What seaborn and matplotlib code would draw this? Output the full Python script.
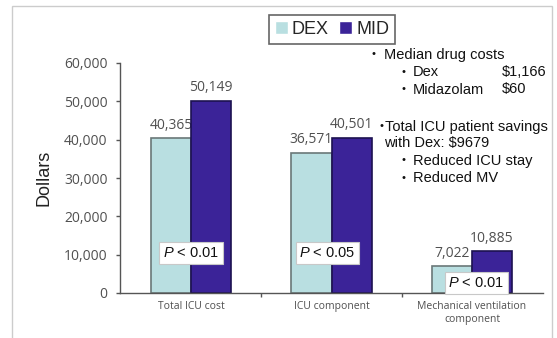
import matplotlib
matplotlib.use("Agg")
import matplotlib.pyplot as plt
import seaborn as sns
import pandas as pd
from matplotlib.patches import Rectangle
from matplotlib.ticker import FuncFormatter, FixedLocator

# ---- data ----
categories = ["Total ICU cost", "ICU component", "Mechanical ventilation\ncomponent"]
groups = ["DEX", "MID"]
dex_values = [40365, 36571, 7022]
mid_values = [50149, 40501, 10885]
p_labels = ["< 0.01", "< 0.05", "< 0.01"]
y_ticks = [0, 10000, 20000, 30000, 40000, 50000, 60000]

df = pd.DataFrame({
    "category": categories * 2,
    "group": ["DEX"] * 3 + ["MID"] * 3,
    "cost": dex_values + mid_values,
})

sns.set_theme(style="ticks")
plt.rcParams["font.family"] = ["Liberation Sans", "DejaVu Sans"]
plt.rcParams["mathtext.fontset"] = "custom"
plt.rcParams["mathtext.it"] = "Liberation Sans:italic"
plt.rcParams["mathtext.rm"] = "Liberation Sans"

W, H = 557, 338
fig = plt.figure(figsize=(W / 100, H / 100), dpi=100)
ax = fig.add_axes([120 / W, 1 - 293 / H, (543 - 120) / W, (293 - 63) / H])

light = "#b9dfe1"
dark = "#3b2398"
sns.barplot(data=df, x="category", y="cost", hue="group", palette=[light, dark],
            width=0.57, saturation=1, linewidth=1.2, ax=ax, errorbar=None)

edge_cols = ["#6a7878", "#1c1250"]
for cont, ec in zip(ax.containers, edge_cols):
    for bar in cont:
        bar.set_edgecolor(ec)
        bar.set_zorder(2)

tick_font = "Open Sans"
for cont, vals in zip(ax.containers, [dex_values, mid_values]):
    anns = ax.bar_label(cont, labels=[f"{v:,}" for v in vals], padding=4,
                        fontsize=10, color="#505050", family=tick_font)
    for a in anns:
        a.set_zorder(1)

ax.set_ylim(0, 60000)
ax.set_xlim(-0.505, 2.505)
ax.yaxis.set_major_locator(FixedLocator(y_ticks))
ax.yaxis.set_major_formatter(FuncFormatter(lambda v, p: f"{int(v):,}"))
ax.set_xlabel("")
ax.set_ylabel("Dollars", fontsize=13, color="#222222", labelpad=8,
              family="Liberation Sans")
sns.despine(ax=ax)
for s in ["left", "bottom"]:
    ax.spines[s].set_color("#555555")
    ax.spines[s].set_linewidth(1.0)

ax.tick_params(axis="y", length=3, width=1, color="#555555", pad=6,
               labelsize=10, labelcolor="#505050")
ax.tick_params(axis="x", which="major", length=0, pad=6, labelsize=7.5,
               labelcolor="#505050")
ax.set_xticks([0.5, 1.5], minor=True)
ax.tick_params(axis="x", which="minor", length=3, width=1, color="#555555")
for lab in ax.get_yticklabels() + ax.get_xticklabels():
    lab.set_family(tick_font)

# p-value boxes
p_pos = [(0.0, 10400), (0.97, 10400), (2.03, 2600)]
for (px, py), lab in zip(p_pos, p_labels):
    ax.text(px, py, r"$\mathit{P}$" + " " + lab, ha="center", va="center",
            fontsize=10.5, color="#111111", zorder=5,
            bbox=dict(boxstyle="square,pad=0.25", fc="white", ec="#c8c8c8", lw=0.8))

# legend
handles, labels = ax.get_legend_handles_labels()
for h in handles:
    h.set_linewidth(1.0)
ax.legend(handles, labels, loc="center", ncol=2,
          bbox_to_anchor=(332 / W, 1 - 29.5 / H), bbox_transform=fig.transFigure,
          frameon=True, fancybox=False, edgecolor="#666666", framealpha=1,
          prop={"family": "Liberation Sans", "size": 13},
          handlelength=0.72, handleheight=0.72, handletextpad=0.2,
          columnspacing=0.6, borderpad=0.35)
ax.get_legend().get_frame().set_linewidth(1.2)

# side notes
def fx(x):
    return x / W

def fy(y):
    return 1 - y / H

note_fs = 10.5
bullets = [(374, 53), (403, 71), (403, 88), (381, 125), (403, 159), (403, 177)]
for bx, by in bullets:
    fig.text(fx(bx), fy(by), "•", ha="center", va="center_baseline", fontsize=8,
             color="#111111")
lines = [
    (384, 53, "Median drug costs"),
    (413, 71, "Dex"),
    (502, 71, "$1,166"),
    (413, 88, "Midazolam"),
    (502, 88, "$60"),
    (385, 125, "Total ICU patient savings"),
    (384, 142, "with Dex: $9679"),
    (413, 159, "Reduced ICU stay"),
    (413, 177, "Reduced MV"),
]
for lx, ly, t in lines:
    fig.text(fx(lx), fy(ly), t, ha="left", va="center_baseline", fontsize=note_fs,
             color="#111111")

# outer frame
fig.add_artist(Rectangle((12 / W, -0.05), (552 - 12) / W, 1.05 - 6 / H,
                         transform=fig.transFigure, fill=False,
                         ec="#cccccc", lw=1.0))

fig.savefig("out.png", dpi=100)
